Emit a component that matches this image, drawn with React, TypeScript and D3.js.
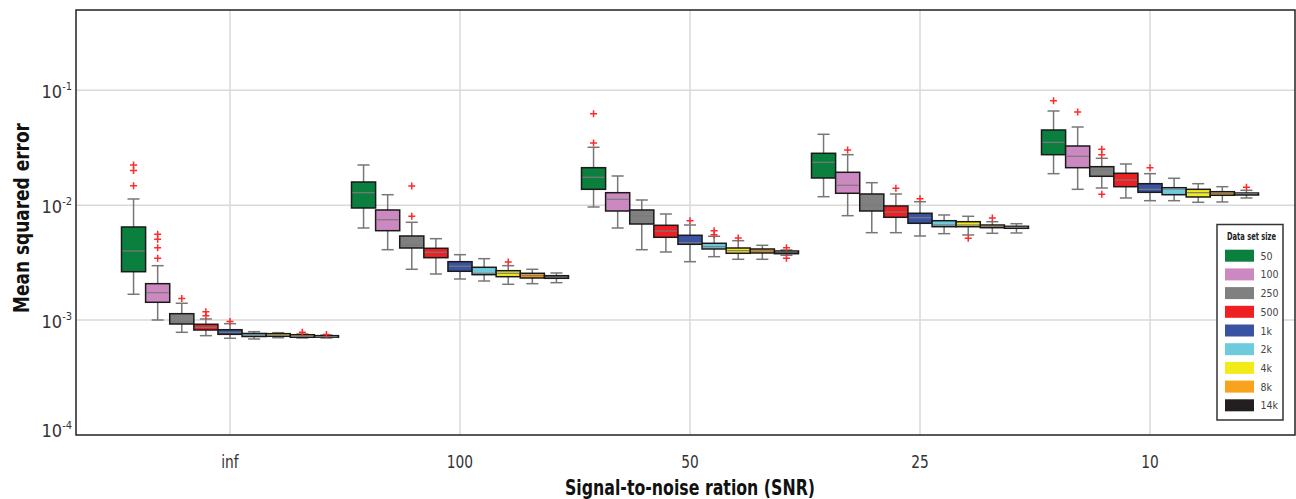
import * as d3 from 'd3';
import React from 'react';

// SNR groups along x, data set sizes inside each group
const snrLabels = ['inf', '100', '50', '25', '10'];
const sizeLabels = ['50', '100', '250', '500', '1k', '2k', '4k', '8k', '14k'];
const sizeColors = ['#0b7f3d', '#cc88c0', '#808080', '#ee2024', '#3a52a2', '#6dcbdc', '#f3ea1a', '#f8a31b', '#231f20'];

const yTicks = [1e-1, 1e-2, 1e-3, 1e-4];

// one row per SNR group, one value per data set size
const whiskerLow = [
  [1.678e-3, 1.002e-3, 7.83e-4, 7.32e-4, 6.95e-4, 6.85e-4, 7.03e-4, 6.99e-4, 6.99e-4],
  [6.334e-3, 4.10e-3, 2.769e-3, 2.519e-3, 2.279e-3, 2.189e-3, 2.05e-3, 2.075e-3, 2.117e-3],
  [9.65e-3, 6.334e-3, 4.10e-3, 3.916e-3, 3.224e-3, 3.564e-3, 3.383e-3, 3.383e-3, 3.665e-3],
  [1.186e-2, 8.107e-3, 5.766e-3, 5.766e-3, 5.396e-3, 5.652e-3, 5.505e-3, 5.697e-3, 5.731e-3],
  [1.881e-2, 1.375e-2, 1.412e-2, 1.156e-2, 1.095e-2, 1.095e-2, 1.06e-2, 1.067e-2, 1.156e-2],
];
const q1 = [
  [2.638e-3, 1.429e-3, 9.25e-4, 8.20e-4, 7.52e-4, 7.20e-4, 7.23e-4, 7.09e-4, 7.09e-4],
  [9.458e-3, 6.001e-3, 4.242e-3, 3.493e-3, 2.66e-3, 2.485e-3, 2.387e-3, 2.325e-3, 2.311e-3],
  [1.375e-2, 8.906e-3, 6.862e-3, 5.257e-3, 4.568e-3, 4.158e-3, 3.816e-3, 3.838e-3, 3.784e-3],
  [1.725e-2, 1.27e-2, 8.906e-3, 7.849e-3, 6.959e-3, 6.501e-3, 6.501e-3, 6.372e-3, 6.295e-3],
  [2.752e-2, 2.121e-2, 1.785e-2, 1.449e-2, 1.295e-2, 1.234e-2, 1.179e-2, 1.22e-2, 1.227e-2],
];
const median = [
  [3.996e-3, 1.732e-3, 9.69e-4, 8.66e-4, 7.83e-4, 7.42e-4, 7.42e-4, 7.23e-4, 7.17e-4],
  [1.285e-2, 7.478e-3, 4.505e-3, 3.893e-3, 2.94e-3, 2.555e-3, 2.555e-3, 2.435e-3, 2.372e-3],
  [1.75e-2, 1.126e-2, 8.057e-3, 5.966e-3, 4.718e-3, 4.354e-3, 4.019e-3, 3.996e-3, 3.916e-3],
  [2.363e-2, 1.491e-2, 9.984e-3, 8.73e-3, 7.786e-3, 6.726e-3, 6.726e-3, 6.553e-3, 6.424e-3],
  [3.528e-2, 2.665e-2, 2.025e-2, 1.657e-2, 1.375e-2, 1.384e-2, 1.285e-2, 1.27e-2, 1.259e-2],
];
const q3 = [
  [6.462e-3, 2.075e-3, 1.137e-3, 9.20e-4, 8.25e-4, 7.65e-4, 7.62e-4, 7.46e-4, 7.32e-4],
  [1.592e-2, 9.087e-3, 5.396e-3, 4.217e-3, 3.224e-3, 2.882e-3, 2.692e-3, 2.555e-3, 2.435e-3],
  [2.121e-2, 1.285e-2, 9.087e-3, 6.686e-3, 5.472e-3, 4.661e-3, 4.242e-3, 4.158e-3, 3.996e-3],
  [2.83e-2, 1.934e-2, 1.252e-2, 9.845e-3, 8.506e-3, 7.33e-3, 7.185e-3, 6.726e-3, 6.553e-3],
  [4.514e-2, 3.276e-2, 2.164e-2, 1.896e-2, 1.539e-2, 1.42e-2, 1.375e-2, 1.311e-2, 1.277e-2],
];
const whiskerHigh = [
  [1.133e-2, 2.976e-3, 1.401e-3, 1.023e-3, 9.31e-4, 7.93e-4, 7.77e-4, 7.57e-4, 7.42e-4],
  [2.239e-2, 1.234e-2, 7.1e-3, 5.112e-3, 3.71e-3, 3.424e-3, 2.976e-3, 2.769e-3, 2.571e-3],
  [3.192e-2, 1.796e-2, 1.11e-2, 8.386e-3, 6.726e-3, 5.364e-3, 4.911e-3, 4.478e-3, 4.076e-3],
  [4.142e-2, 2.752e-2, 1.57e-2, 1.252e-2, 1.073e-2, 8.22e-3, 8.009e-3, 7.185e-3, 6.903e-3],
  [6.607e-2, 4.793e-2, 2.56e-2, 2.284e-2, 1.881e-2, 1.715e-2, 1.539e-2, 1.449e-2, 1.348e-2],
];
const outliers = [
  [[2.24e-2, 2.0e-2, 1.48e-2], [5.58e-3, 5.05e-3, 4.27e-3, 3.45e-3], [1.54e-3], [1.18e-3, 1.09e-3], [9.73e-4], [], [], [7.83e-4], [7.49e-4]],
  [[], [], [1.47e-2, 8.01e-3], [], [], [], [3.205e-3], [], []],
  [[6.258e-2, 3.479e-2], [], [], [], [7.33e-3], [6.0e-3, 5.538e-3], [5.184e-3], [], [4.268e-3, 3.451e-3]],
  [[], [3.023e-2], [], [1.404e-2], [1.139e-2], [], [5.153e-3], [7.74e-3], []],
  [[8.121e-2], [6.476e-2], [3.066e-2, 2.752e-2, 1.245e-2], [], [2.121e-2], [], [], [], [1.432e-2]],
];

const font = "'Liberation Sans Narrow', 'Arial Narrow', 'DejaVu Sans Condensed', sans-serif";

export default function App() {
  const left = 76, right = 1295, top = 10, bottom = 435;

  const x = d3.scaleBand<string>().domain(snrLabels).range([115, 1265]);
  const inner = d3.scaleBand<string>().domain(sizeLabels).range([-108.5, 108.5]);
  const y = d3.scaleLog().domain([1e-4, 0.5]).range([bottom, top]);

  const bw = inner.bandwidth();
  const grid = '#d9d9d9';

  return (
    <svg width={1296} height={499} style={{ position: 'absolute', left: 0, top: 0, background: '#fff' }}
      fontFamily={font} fontStretch="condensed">
      {/* grid */}
      {yTicks.slice(0, 3).map(t => (
        <line key={'gy' + t} x1={left} x2={right} y1={y(t)} y2={y(t)} stroke={grid} strokeWidth={1.5} />
      ))}
      {snrLabels.map(s => (
        <line key={'gx' + s} x1={x(s)! + x.bandwidth() / 2} x2={x(s)! + x.bandwidth() / 2}
          y1={top} y2={bottom} stroke={grid} strokeWidth={1.5} />
      ))}

      {/* boxes */}
      {snrLabels.map((s, gi) => {
        const cx0 = x(s)! + x.bandwidth() / 2;
        return sizeLabels.map((z, k) => {
          const x0 = cx0 + inner(z)!;
          const cx = x0 + bw / 2;
          const cap = bw / 4;
          return (
            <g key={s + z}>
              <line x1={cx} x2={cx} y1={y(whiskerHigh[gi][k])} y2={y(q3[gi][k])} stroke="#777" strokeWidth={1.5} />
              <line x1={cx} x2={cx} y1={y(q1[gi][k])} y2={y(whiskerLow[gi][k])} stroke="#777" strokeWidth={1.5} />
              <line x1={cx - cap} x2={cx + cap} y1={y(whiskerHigh[gi][k])} y2={y(whiskerHigh[gi][k])} stroke="#777" strokeWidth={1.5} />
              <line x1={cx - cap} x2={cx + cap} y1={y(whiskerLow[gi][k])} y2={y(whiskerLow[gi][k])} stroke="#777" strokeWidth={1.5} />
              <rect x={x0} width={bw} y={y(q3[gi][k])} height={Math.max(1, y(q1[gi][k]) - y(q3[gi][k]))}
                fill={sizeColors[k]} stroke="#1a1a1a" strokeWidth={1.5} />
              <line x1={x0 + 1} x2={x0 + bw - 1} y1={y(median[gi][k])} y2={y(median[gi][k])} stroke="#7a7a7a" strokeWidth={1.2} />
              {outliers[gi][k].map((o, j) => (
                <path key={j} d={`M${cx - 3.5},${y(o)}h7M${cx},${y(o) - 3.5}v7`} stroke="#ff2a2a" strokeWidth={1.5} />
              ))}
            </g>
          );
        });
      })}

      {/* frame */}
      <rect x={left} y={top} width={right - left} height={bottom - top} fill="none" stroke="#222" strokeWidth={1.5} />

      {/* y ticks */}
      {yTicks.map(t => (
        <text key={'yt' + t} x={72} y={Math.min(y(t) + 8, 437)} textAnchor="end" fontSize={18} fill="#333">
          10<tspan fontSize={11} dy={-8}>{'-' + Math.round(-Math.log10(t))}</tspan>
        </text>
      ))}

      {/* x ticks */}
      {snrLabels.map(s => (
        <text key={'xt' + s} x={x(s)! + x.bandwidth() / 2} y={468} textAnchor="middle" fontSize={18} fill="#333"
          transform={`translate(${x(s)! + x.bandwidth() / 2},0) scale(0.85,1) translate(${-(x(s)! + x.bandwidth() / 2)},0)`}>{s}</text>
      ))}

      {/* axis titles */}
      <text x={565} y={495} fontSize={21} fontWeight="bold" fill="#111" textLength={250} lengthAdjust="spacingAndGlyphs">Signal-to-noise ration (SNR)</text>
      <text transform="translate(29,313) rotate(-90)" fontSize={21} fontWeight="bold" fill="#111" textLength={190} lengthAdjust="spacingAndGlyphs">Mean squared error</text>

      {/* legend */}
      <g>
        <rect x={1217} y={224.5} width={66} height={195.5} fill="#fff" stroke="#333" strokeWidth={1.5} />
        <text x={1227} y={240} fontSize={10.5} fontWeight="bold" fill="#222" textLength={49} lengthAdjust="spacingAndGlyphs">Data set size</text>
        {sizeLabels.map((z, k) => (
          <g key={'lg' + z} transform={`translate(0,${255.7 + k * 18.7})`}>
            <rect x={1225} y={-6} width={29} height={12} fill={sizeColors[k]} />
            <text x={1260.5} y={4} fontSize={10.5} fill="#444">{z}</text>
          </g>
        ))}
      </g>
    </svg>
  );
}
